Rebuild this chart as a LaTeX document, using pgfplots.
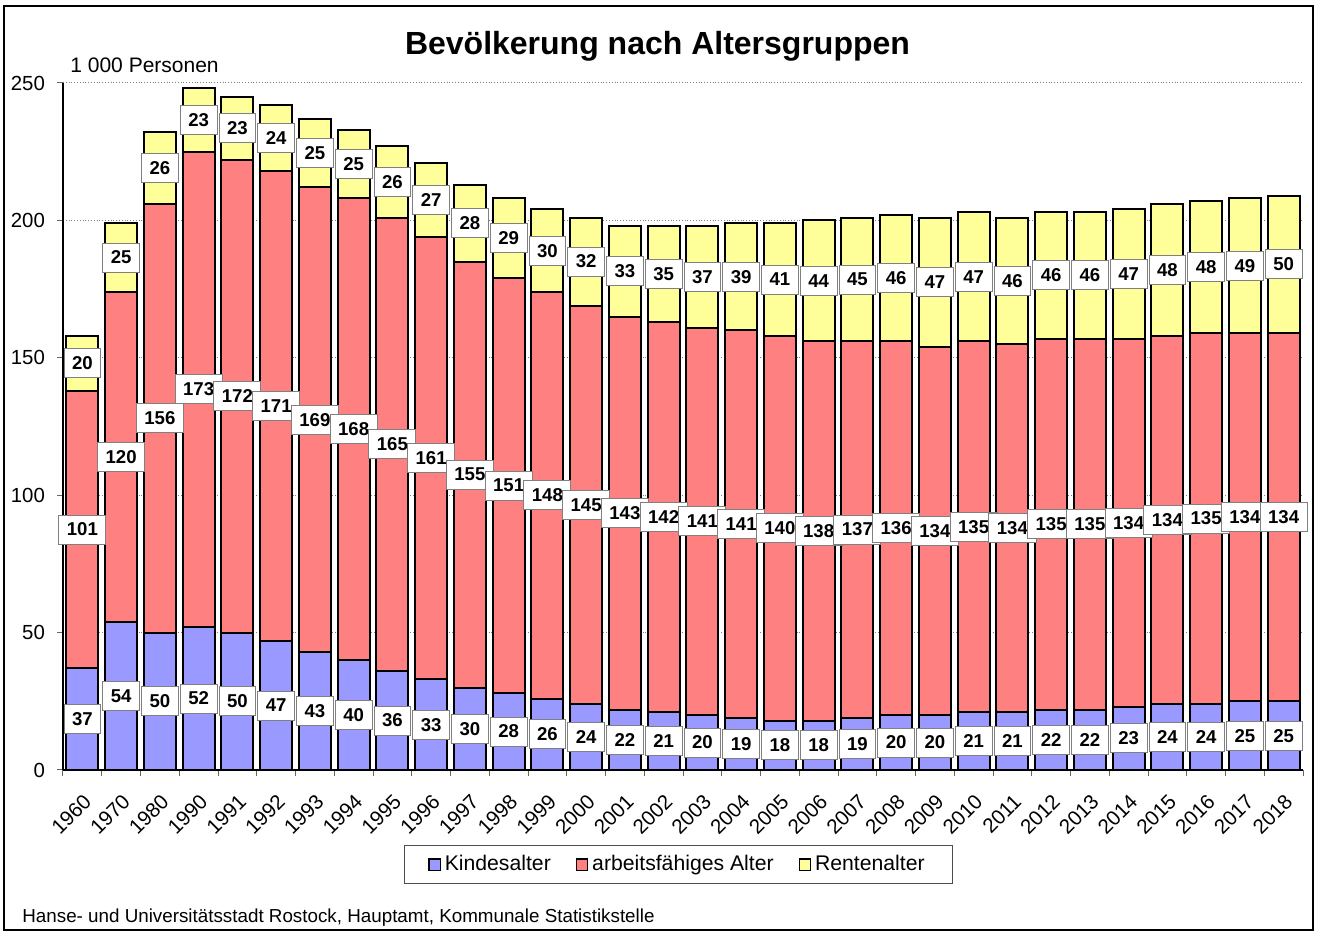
\documentclass[border=0pt]{standalone}
\usepackage{pgfplots}
\pgfplotsset{compat=1.18}
\usepackage{pgfplotstable}
\usepackage{fontspec}
\setmainfont{Liberation Sans}
\definecolor{kind}{HTML}{9999FF}
\definecolor{arb}{HTML}{FF8080}
\definecolor{rent}{HTML}{FFFF99}

\pgfplotstableread{
x k a r
0 37 101 20
1 54 120 25
2 50 156 26
3 52 173 23
4 50 172 23
5 47 171 24
6 43 169 25
7 40 168 25
8 36 165 26
9 33 161 27
10 30 155 28
11 28 151 29
12 26 148 30
13 24 145 32
14 22 143 33
15 21 142 35
16 20 141 37
17 19 141 39
18 18 140 41
19 18 138 44
20 19 137 45
21 20 136 46
22 20 134 47
23 21 135 47
24 21 134 46
25 22 135 46
26 22 135 46
27 23 134 47
28 24 134 48
29 24 135 48
30 25 134 49
31 25 134 50
}\data

\pgfplotsset{
  sq legend/.style={legend image code/.code={\draw[##1, line width=0.6pt] (0pt,-2.8pt) rectangle (5.6pt,2.8pt);}},
}

\begin{document}
\begin{tikzpicture}
\useasboundingbox (0,0) rectangle (659pt,468pt);
\draw[line width=1pt] (2pt,3pt) rectangle (656.5pt,465pt);
\node[anchor=base, font=\fontsize{16}{19}\bfseries\selectfont] at (328.75pt,440.5pt) {Bevölkerung nach Altersgruppen};
\node[anchor=base west, inner sep=0pt, font=\fontsize{10.5}{12}\selectfont] at (35pt,431.5pt) {1 000 Personen};
\node[anchor=base west, inner sep=0pt, font=\fontsize{9.4}{11}\selectfont] at (11pt,6.5pt) {Hanse- und Universitätsstadt Rostock, Hauptamt, Kommunale Statistikstelle};
\begin{axis}[
  at={(31.5pt,83pt)}, anchor=south west,
  scale only axis, width=620pt, height=343.5pt,
  ybar stacked, bar width=0.83,
  xmin=-0.5, xmax=31.5, ymin=0, ymax=250,
  enlarge x limits=false, enlarge y limits=false,
  axis lines*=left,
  axis line style={black, line width=0.6pt},
  ytick={0,50,...,250},
  ymajorgrids, grid style={gray, densely dotted, line width=0.5pt},
  xtick={-0.5,0.5,...,31.5}, xticklabels={},
  extra x ticks={0,1,...,31},
  extra x tick labels={1960,1970,1980,1990,1991,1992,1993,1994,1995,1996,1997,1998,1999,2000,2001,2002,2003,2004,2005,2006,2007,2008,2009,2010,2011,2012,2013,2014,2015,2016,2017,2018},
  extra x tick style={major tick length=0pt},
  x tick label style={rotate=45, anchor=north east, font=\fontsize{10.3}{12}\selectfont, inner sep=1pt, xshift=-7pt, yshift=-7pt},
  y tick label style={font=\fontsize{10.2}{12}\selectfont, xshift=-2.5pt},
  tick align=outside, major tick length=3pt,
  tick style={black!60, line width=0.5pt},
  /pgf/number format/assume math mode=true,
  point meta=explicit,
  nodes near coords={\pgfmathprintnumber[fixed,precision=0]{\pgfplotspointmeta}},
  every node near coord/.append style={anchor=center, fill=white, draw=gray, line width=0.4pt, font=\fontsize{9.3}{10}\bfseries\selectfont, inner xsep=4pt, inner ysep=0pt, minimum height=14.5pt, text=black},
  legend style={at={(0.4964,-0.1376)}, anchor=center, draw=black!70, line width=0.5pt, font=\fontsize{10.6}{12}\selectfont, /tikz/every even column/.append style={column sep=10.5pt}, inner xsep=12pt, inner ysep=3pt},
  legend columns=3,
]
\addplot[fill=kind, draw=black, line width=1pt, sq legend] table[x=x, y=k, meta=k] {\data};
\addplot[fill=arb, draw=black, line width=1pt, sq legend] table[x=x, y=a, meta=a] {\data};
\addplot[fill=rent, draw=black, line width=1pt, sq legend] table[x=x, y=r, meta=r] {\data};
\legend{Kindesalter, arbeitsfähiges Alter, Rentenalter}
\end{axis}
\end{tikzpicture}
\end{document}
